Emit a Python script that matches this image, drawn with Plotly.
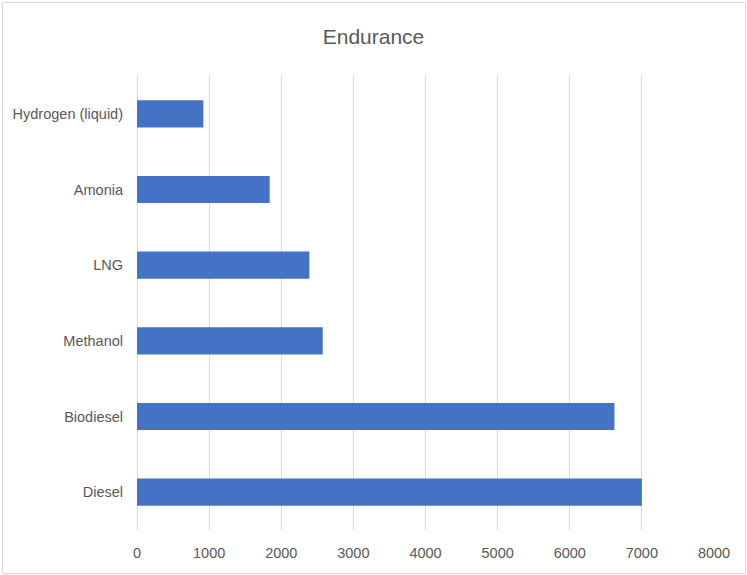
import plotly.graph_objects as go

categories = ["Diesel", "Biodiesel", "Methanol", "LNG", "Amonia", "Hydrogen (liquid)"]
values = [7000, 6620, 2575, 2390, 1840, 920]
x_ticks = [0, 1000, 2000, 3000, 4000, 5000, 6000, 7000, 8000]

W, H = 747, 575
L, R, T, B = 137, 33, 76, 45
pw = W - L - R
ph = H - T - B

def px_x(p):
    return (p - L) / pw

def px_y(p):
    return (H - B - p) / ph

font_fam = "Liberation Sans, Arial, sans-serif"

fig = go.Figure(go.Bar(
    x=values, y=categories, orientation="h",
    marker=dict(color="#4472C4", line=dict(width=0)),
    width=0.36,
))

fig.update_layout(
    width=W, height=H,
    margin=dict(l=L, r=R, t=T, b=B),
    paper_bgcolor="white", plot_bgcolor="white",
    title=dict(text="Endurance", x=0.5, xanchor="center", xref="container",
               y=1 - 37 / H, yanchor="middle",
               font=dict(family=font_fam, size=21, color="#595959")),
    showlegend=False,
    xaxis=dict(range=[0, 8000], tickvals=x_ticks, ticktext=[str(v) for v in x_ticks],
               showgrid=True, gridcolor="#d9d9d9", gridwidth=1,
               zeroline=True, zerolinecolor="#d9d9d9", zerolinewidth=1,
               showline=False, ticks="", ticklabelstandoff=12,
               tickfont=dict(family=font_fam, size=14.5, color="#595959"),
               fixedrange=True),
    yaxis=dict(categoryorder="array", categoryarray=categories,
               showgrid=False, zeroline=False, showline=False, ticks="",
               ticklabelstandoff=13,
               tickfont=dict(family=font_fam, size=14.5, color="#595959"),
               fixedrange=True),
    shapes=[dict(type="rect", xref="paper", yref="paper",
                 x0=px_x(2.5), x1=px_x(745.5), y0=px_y(573.5), y1=px_y(2.5),
                 line=dict(color="#d9d9d9", width=1), fillcolor="rgba(0,0,0,0)",
                 layer="below")],
)

fig.write_html("out.html")
